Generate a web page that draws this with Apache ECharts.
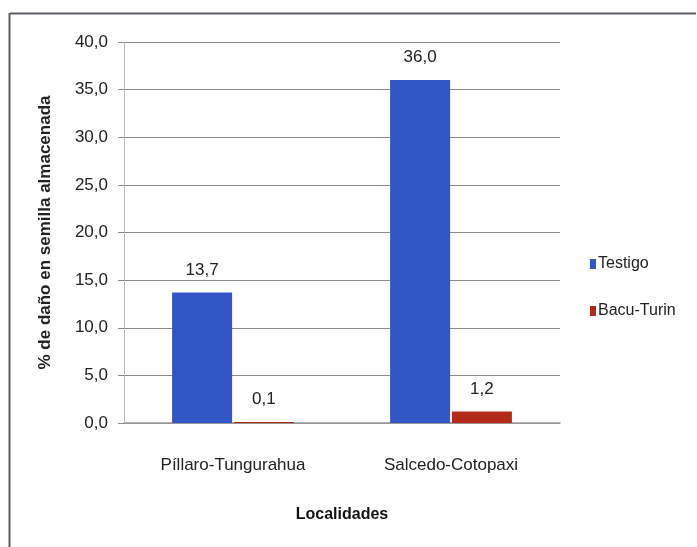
<!DOCTYPE html>
<html>
<head>
<meta charset="utf-8">
<script src="https://cdn.jsdelivr.net/npm/echarts@6/dist/echarts.min.js"></script>
<style>
html,body{margin:0;padding:0;background:#fff;}
#chart{width:697px;height:547px;}
</style>
</head>
<body>
<div id="chart"></div>
<script>
const categories = ['Píllaro-Tungurahua', 'Salcedo-Cotopaxi'];
const testigo = [13.7, 36.0];
const bacuTurin = [0.1, 1.2];
const seriesNames = ['Testigo', 'Bacu-Turin'];
const yTicks = { min: 0, max: 40, interval: 5 };

const FONT = '"Liberation Sans", "DejaVu Sans", sans-serif';
const fmt = v => v.toFixed(1).replace('.', ',');

const chart = echarts.init(document.getElementById('chart'), null, { renderer: 'canvas' });
chart.setOption({
  backgroundColor: '#ffffff',
  animation: false,
  textStyle: { fontFamily: FONT },
  grid: { left: 124, right: 137, top: 42, bottom: 124, containLabel: false },
  legend: {
    orient: 'vertical',
    left: 585,
    top: 251,
    itemWidth: 6,
    itemHeight: 10,
    itemGap: 31,
    icon: 'rect',
    textStyle: { fontFamily: FONT, fontSize: 16, color: '#222', padding: [0, 0, 0, -3] },
    data: seriesNames
  },
  xAxis: {
    type: 'category',
    data: categories,
    name: 'Localidades',
    nameLocation: 'middle',
    nameGap: 84,
    nameTextStyle: { fontFamily: FONT, fontSize: 16, fontWeight: 'bold', color: '#111' },
    axisLine: { show: true, lineStyle: { color: '#9a9a9a', width: 1.5 } },
    axisTick: { show: false },
    axisLabel: { margin: 34, fontFamily: FONT, fontSize: 17, color: '#222' }
  },
  yAxis: {
    type: 'value',
    min: yTicks.min,
    max: yTicks.max,
    interval: yTicks.interval,
    name: '% de daño en semilla almacenada',
    nameLocation: 'middle',
    nameGap: 70,
    nameTextStyle: { fontFamily: FONT, fontSize: 17, fontWeight: 'bold', color: '#222' },
    axisLine: { show: true, lineStyle: { color: '#bbbbbb', width: 1 } },
    axisTick: { show: true, inside: false, length: 6, lineStyle: { color: '#888' } },
    axisLabel: { margin: 16, fontFamily: FONT, fontSize: 17, color: '#222', formatter: v => fmt(v) },
    splitLine: { show: true, lineStyle: { color: '#8a8a8a', width: 1 } }
  },
  series: [
    {
      name: seriesNames[0],
      type: 'bar',
      data: testigo,
      barWidth: 60,
      barGap: '3%',
      itemStyle: { color: '#3356c6' },
      label: { show: true, position: 'top', distance: 14, formatter: p => fmt(p.value), fontFamily: FONT, fontSize: 17, color: '#222' }
    },
    {
      name: seriesNames[1],
      type: 'bar',
      data: bacuTurin,
      barWidth: 60,
      barGap: '3%',
      itemStyle: { color: '#b42a1a' },
      label: { show: true, position: 'top', distance: 14, formatter: p => fmt(p.value), fontFamily: FONT, fontSize: 17, color: '#222' }
    }
  ],
  graphic: [
    { type: 'line', shape: { x1: 10, y1: 13.5, x2: 696, y2: 13.5 }, style: { stroke: '#5a5f6a', lineWidth: 2 } },
    { type: 'line', shape: { x1: 9.5, y1: 13, x2: 9.5, y2: 547 }, style: { stroke: '#5a5f6a', lineWidth: 2 } }
  ]
});
</script>
</body>
</html>
